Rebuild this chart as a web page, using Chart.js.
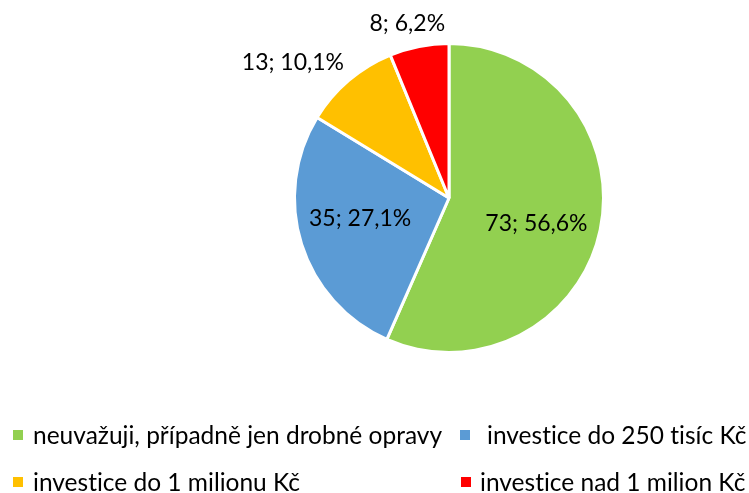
<!DOCTYPE html>
<html>
<head>
<meta charset="utf-8">
<script src="https://cdn.jsdelivr.net/npm/chart.js@4.4.1/dist/chart.umd.min.js"></script>
<style>
  html, body { margin: 0; padding: 0; background: #fff; }
  #wrap { position: relative; width: 749px; height: 493px; }
  #legend { position: absolute; left: 0; top: 0; width: 749px; height: 493px; pointer-events: none;
    font-family: 'Lato', sans-serif; font-size: 24.5px; color: #000; font-variant-ligatures: none; }
  .txt { position: absolute; white-space: nowrap; line-height: 30px; height: 30px; }
  .box { position: absolute; width: 10px; height: 10px; }
</style>
</head>
<body>
<div id="wrap">
  <canvas id="myChart" width="749" height="493"></canvas>
  <div id="legend"></div>
</div>
<script>
'use strict';

const categories = [
  'neuvažuji, případně jen drobné opravy',
  'investice do 250 tisíc Kč',
  'investice do 1 milionu Kč',
  'investice nad 1 milion Kč'
];
const counts = [73, 35, 13, 8];
const percentLabels = ['56,6%', '27,1%', '10,1%', '6,2%'];
const sliceColors = ['#92D050', '#5B9BD5', '#FFC000', '#FF0000'];

// legend entry: marker left, text left, row middle
const legendSpots = [[13, 33, 435], [460, 487, 435], [13, 33, 482], [461, 480, 482]];

const legendEl = document.getElementById('legend');
for (let i = 0; i < categories.length; i++) {
  const box = document.createElement('div');
  box.className = 'box';
  box.style.background = sliceColors[i];
  box.style.left = legendSpots[i][0] + 'px';
  box.style.top = (legendSpots[i][2] - 5) + 'px';
  legendEl.appendChild(box);

  const txt = document.createElement('div');
  txt.className = 'txt';
  txt.textContent = categories[i];
  txt.style.left = legendSpots[i][1] + 'px';
  txt.style.top = (legendSpots[i][2] - 15) + 'px';
  legendEl.appendChild(txt);
}

// draws "count; percent" labels, inside the big slices and outside the small ones
const sliceLabels = {
  id: 'sliceLabels',
  afterDatasetsDraw(chart) {
    const ctx = chart.ctx;
    const meta = chart.getDatasetMeta(0);
    ctx.save();
    ctx.font = '23px Lato';
    ctx.fillStyle = '#000';
    ctx.textAlign = 'center';
    ctx.textBaseline = 'middle';
    meta.data.forEach(function (arc, i) {
      const mid = (arc.startAngle + arc.endAngle) / 2;
      const text = counts[i] + '; ' + percentLabels[i];
      const c = Math.cos(mid), s = Math.sin(mid);
      let x, y;
      if (arc.endAngle - arc.startAngle > 1) {
        // excel's best fit sits a little clockwise of the middle
        const a = mid + 0.08;
        const r = arc.outerRadius * 0.59;
        x = arc.x + Math.cos(a) * r;
        y = arc.y + Math.sin(a) * r;
      } else {
        const w = ctx.measureText(text).width;
        const r = arc.outerRadius + 18;
        x = arc.x + c * r + c * w / 2 + c * Math.abs(c) * 26;
        y = arc.y + s * r + s * 5;
      }
      ctx.fillText(text, x, y);
    });
    ctx.restore();
  }
};

new Chart(document.getElementById('myChart'), {
  type: 'pie',
  data: {
    labels: categories,
    datasets: [{
      data: counts,
      backgroundColor: sliceColors,
      borderColor: '#fff',
      borderWidth: 3
    }]
  },
  options: {
    responsive: false,
    animation: false,
    layout: { padding: { left: 293, right: 144, top: 42, bottom: 139 } },
    plugins: {
      legend: { display: false },
      tooltip: { enabled: false }
    }
  },
  plugins: [sliceLabels]
});
</script>
</body>
</html>
